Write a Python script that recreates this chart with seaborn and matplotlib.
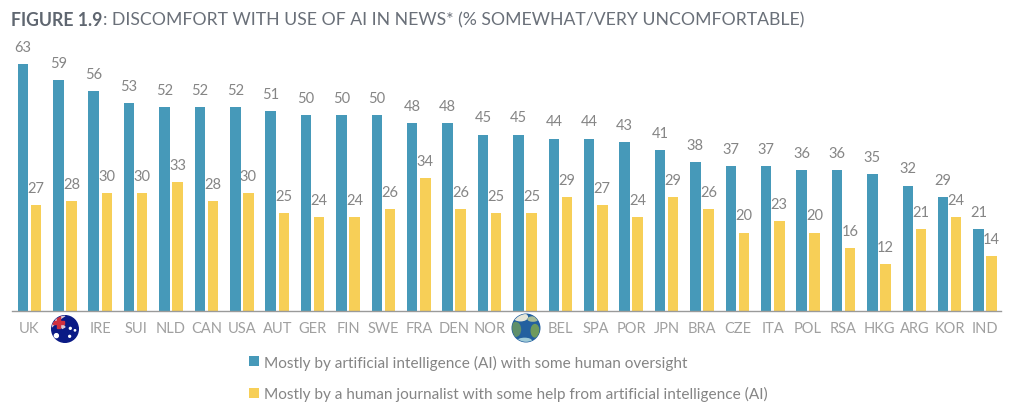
import numpy as np
import pandas as pd
import matplotlib
matplotlib.use('Agg')
import matplotlib.pyplot as plt
from matplotlib.patches import Circle, Ellipse, Rectangle, Polygon
import seaborn as sns

countries = ['UK', 'AUS', 'IRE', 'SUI', 'NLD', 'CAN', 'USA', 'AUT', 'GER', 'FIN', 'SWE', 'FRA', 'DEN', 'NOR',
             'ALL', 'BEL', 'SPA', 'POR', 'JPN', 'BRA', 'CZE', 'ITA', 'POL', 'RSA', 'HKG', 'ARG', 'KOR', 'IND']
ai_values = [63, 59, 56, 53, 52, 52, 52, 51, 50, 50, 50, 48, 48, 45,
             45, 44, 44, 43, 41, 38, 37, 37, 36, 36, 35, 32, 29, 21]
human_values = [27, 28, 30, 30, 33, 28, 30, 25, 24, 24, 26, 34, 26, 25,
                25, 29, 27, 24, 29, 26, 20, 23, 20, 16, 12, 21, 24, 14]
series_names = ['Mostly by artificial intelligence (AI) with some human oversight',
                'Mostly by a human journalist with some help from artificial intelligence (AI)']
tick_labels = ['' if c in ('AUS', 'ALL') else c for c in countries]

BLUE = '#4699b9'
YELLOW = '#f7cf57'
W, H = 1024, 414

sns.set_theme(style='white')
plt.rcParams['font.family'] = ['Lato', 'DejaVu Sans']

df = pd.DataFrame({
    'country': countries * 2,
    'value': ai_values + human_values,
    'series': [series_names[0]] * len(countries) + [series_names[1]] * len(countries),
})

fig = plt.figure(figsize=(W / 100, H / 100), dpi=100)
# axes box in pixels: baseline at y=312, top at y=40
ax = fig.add_axes([12 / W, 1 - 312 / H, 989 / W, 272 / H])

sns.barplot(data=df, x='country', y='value', hue='series', order=countries,
            palette=[BLUE, YELLOW], saturation=1, width=0.74, gap=0.2, linewidth=0, ax=ax)

for container in ax.containers:
    ax.bar_label(container, padding=7.3, fontsize=10.5, color='#858585')

ax.set_xlim(-0.494, 27.45)
ax.set_ylim(0, 272 / 3.92)
ax.set_xticks(range(len(countries)))
ax.set_xticklabels(tick_labels, fontsize=10.5, color='#a0a0a0')
ax.set_xlabel('')
ax.set_ylabel('')
ax.set_yticks([])
ax.tick_params(axis='x', length=0, pad=7.5)
sns.despine(ax=ax, left=True)
ax.spines['bottom'].set_color('#9a9a9a')
ax.spines['bottom'].set_linewidth(1)

sns.move_legend(ax, 'upper left', bbox_to_anchor=(244.7 / W, 1 - 351 / H), bbox_transform=fig.transFigure,
                title=None, frameon=False, fontsize=11.1, labelcolor='#858585', labelspacing=1.08,
                handlelength=0.65, handleheight=0.65, handletextpad=0.32, borderpad=0.3, borderaxespad=0)


# overlay in image pixels for the title and round icons
overlay = fig.add_axes([0, 0, 1, 1], zorder=5)
overlay.set_xlim(0, W)
overlay.set_ylim(H, 0)
overlay.axis('off')


def draw_flag(cx, cy, r):
    disc = Circle((cx, cy), r, color='#0a1a85')
    overlay.add_patch(disc)
    parts = [
        Polygon([(cx - r, cy - r), (cx - r * 0.8, cy - r), (cx, cy - r * 0.15), (cx - r * 0.2, cy - r * 0.05)],
                color='#d9c9d6'),
        Polygon([(cx, cy - r), (cx - r * 0.2, cy - r), (cx - r, cy - r * 0.15), (cx - r, cy - r * 0.35)],
                color='#d9c9d6'),
        Rectangle((cx - r, cy - r * 0.62), r * 0.95, r * 0.26, color='#d0303f'),
        Rectangle((cx - r * 0.62, cy - r), r * 0.26, r * 0.95, color='#d0303f'),
    ]
    for part in parts:
        overlay.add_patch(part)
        part.set_clip_path(disc)
    for sx, sy, sr in [(-0.65, 0.5, 0.15), (0.4, -0.05, 0.07), (0.75, 0.1, 0.05), (0.35, 0.55, 0.07)]:
        overlay.add_patch(Circle((cx + sx * r, cy + sy * r), sr * r, color='white'))


def draw_globe(cx, cy, r):
    disc = Circle((cx, cy), r, color='#23609f')
    overlay.add_patch(disc)
    parts = [
        Ellipse((cx - r * 0.75, cy + r * 0.1), r * 0.7, r * 1.0, color='#5f8f6a'),
        Ellipse((cx - r * 0.4, cy - r * 0.8), r * 1.0, r * 0.55, color='#e6e6d8'),
        Ellipse((cx + r * 0.65, cy + r * 0.2), r * 0.55, r * 0.9, color='#6f9a5c'),
        Ellipse((cx + r * 0.5, cy - r * 0.65), r * 0.7, r * 0.3, color='#a9bd98'),
        Ellipse((cx - r * 0.1, cy + r * 0.95), r * 1.0, r * 0.4, color='#9fcbd8'),
    ]
    for part in parts:
        overlay.add_patch(part)
        part.set_clip_path(disc)


draw_flag(65, 330, 13.3)
draw_globe(526, 329, 13.8)

# title is two runs of text, second one starts where the bold part ends
bold = overlay.text(11, 20, 'FIGURE 1.9', fontsize=12.7, fontweight='bold', color='#5f6670', va='center', ha='left')
fig.canvas.draw()
bb = bold.get_window_extent()
overlay.text(bb.x1 + 0.5, 20, ': DISCOMFORT WITH USE OF AI IN NEWS* (% SOMEWHAT/VERY UNCOMFORTABLE)',
             fontsize=12.7, color='#6a7079', va='center', ha='left')

fig.savefig('out.png', dpi=100)
